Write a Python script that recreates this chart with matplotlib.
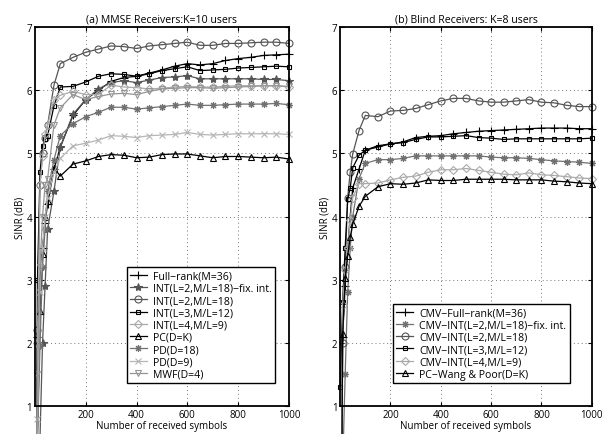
import matplotlib
matplotlib.use("Agg")
import matplotlib.pyplot as plt

plt.rcParams['font.family'] = ['Open Sans', 'DejaVu Sans']

# number of received symbols (same grid for every curve)
symbols = [1, 10, 20, 30, 40, 50, 75, 100, 150, 200, 250, 300, 350, 400, 450, 500,
           550, 600, 650, 700, 750, 800, 850, 900, 950, 1000]

# (a) MMSE receivers, K=10 users - SINR in dB
full_rank_a = [-4, 2.1, 3.0, 3.5, 3.9, 4.2, 4.75, 5.1, 5.6, 5.85, 6.0, 6.14, 6.2, 6.22, 6.27, 6.32,
               6.38, 6.42, 6.4, 6.42, 6.47, 6.5, 6.52, 6.55, 6.56, 6.57]
int_fix_a = [-4, -1.0, 0.5, 2.0, 2.9, 3.8, 4.4, 5.1, 5.62, 5.85, 6.02, 6.12, 6.15, 6.12, 6.16, 6.2,
             6.21, 6.23, 6.18, 6.18, 6.18, 6.18, 6.18, 6.17, 6.17, 6.15]
int_l2_a = [-4, 2.2, 4.5, 5.0, 5.25, 5.45, 6.08, 6.42, 6.52, 6.6, 6.65, 6.7, 6.69, 6.66, 6.7, 6.72,
            6.74, 6.76, 6.71, 6.71, 6.74, 6.74, 6.75, 6.76, 6.76, 6.74]
int_l3_a = [-4, 3.0, 4.7, 5.12, 5.22, 5.28, 5.75, 6.05, 6.06, 6.13, 6.22, 6.26, 6.25, 6.22, 6.26, 6.31,
            6.34, 6.37, 6.31, 6.32, 6.33, 6.35, 6.36, 6.37, 6.38, 6.37]
int_l4_a = [-4, 2.0, 4.5, 4.95, 5.3, 5.45, 5.85, 5.92, 5.98, 5.93, 5.93, 6.08, 6.05, 6.04, 6.02, 6.03,
            6.05, 6.06, 6.05, 6.05, 6.06, 6.07, 6.07, 6.07, 6.07, 6.05]
pc_a = [-4, 0.5, 2.5, 3.4, 4.0, 4.25, 4.77, 4.64, 4.83, 4.88, 4.95, 4.98, 4.97, 4.93, 4.94, 4.98,
        4.99, 4.99, 4.96, 4.93, 4.95, 4.95, 4.94, 4.93, 4.94, 4.91]
pd18_a = [-4, 0.5, 1.95, 3.2, 3.8, 4.4, 4.9, 5.28, 5.47, 5.58, 5.65, 5.73, 5.73, 5.7, 5.72, 5.74,
          5.76, 5.78, 5.76, 5.76, 5.77, 5.78, 5.78, 5.78, 5.79, 5.77]
pd9_a = [-4, 0.8, 2.8, 3.5, 4.0, 4.3, 4.7, 4.92, 5.12, 5.16, 5.21, 5.28, 5.27, 5.25, 5.28, 5.29,
         5.3, 5.33, 5.3, 5.29, 5.3, 5.31, 5.31, 5.31, 5.31, 5.3]
mwf_a = [-4, 1.5, 3.2, 4.0, 4.5, 4.6, 5.45, 5.72, 5.93, 5.85, 5.9, 5.94, 5.95, 5.93, 5.98, 6.02,
         6.03, 6.04, 6.04, 6.03, 6.04, 6.05, 6.06, 6.07, 6.07, 6.06]

# (b) blind receivers, K=8 users
full_rank_b = [-4, 2.1, 2.9, 3.5, 4.0, 4.45, 4.75, 5.05, 5.12, 5.15, 5.18, 5.25, 5.27, 5.28, 5.31, 5.33,
               5.35, 5.36, 5.37, 5.38, 5.39, 5.4, 5.4, 5.4, 5.39, 5.39]
int_fix_b = [-4, 0.0, 1.5, 2.8, 3.5, 4.0, 4.6, 4.84, 4.9, 4.9, 4.92, 4.96, 4.96, 4.96, 4.96, 4.96,
             4.96, 4.94, 4.93, 4.93, 4.92, 4.9, 4.88, 4.87, 4.86, 4.84]
int_l2_b = [-4, 2.0, 3.2, 4.3, 4.7, 4.99, 5.36, 5.6, 5.58, 5.67, 5.68, 5.71, 5.77, 5.83, 5.87, 5.87,
            5.83, 5.81, 5.81, 5.83, 5.85, 5.81, 5.8, 5.76, 5.74, 5.74]
int_l3_b = [1.3, 2.65, 3.5, 4.27, 4.45, 4.77, 4.97, 5.05, 5.1, 5.15, 5.17, 5.22, 5.26, 5.26, 5.27, 5.28,
            5.25, 5.24, 5.22, 5.23, 5.23, 5.23, 5.23, 5.23, 5.23, 5.24]
int_l4_b = [-4, 2.6, 3.15, 3.5, 3.95, 4.3, 4.52, 4.52, 4.53, 4.58, 4.62, 4.64, 4.7, 4.74, 4.74, 4.76,
            4.73, 4.7, 4.67, 4.66, 4.69, 4.66, 4.65, 4.63, 4.61, 4.6]
pc_b = [-4, 2.14, 3.03, 3.38, 3.67, 3.88, 4.16, 4.32, 4.47, 4.52, 4.51, 4.53, 4.58, 4.57, 4.57, 4.59,
        4.59, 4.59, 4.59, 4.58, 4.58, 4.58, 4.56, 4.55, 4.53, 4.52]

ASTER = (8, 2, 0)

# label, data, marker, color, filled
series_a = [
    ("Full\u2212rank(M=36)", full_rank_a, "+", "black", False),
    ("INT(L=2,M/L=18)\u2212fix. int.", int_fix_a, "*", "#555555", True),
    ("INT(L=2,M/L=18)", int_l2_a, "o", "#555555", False),
    ("INT(L=3,M/L=12)", int_l3_a, "s", "black", False),
    ("INT(L=4,M/L=9)", int_l4_a, "D", "#aaaaaa", False),
    ("PC(D=K)", pc_a, "^", "black", False),
    ("PD(D=18)", pd18_a, ASTER, "#707070", True),
    ("PD(D=9)", pd9_a, "x", "#b5b5b5", False),
    ("MWF(D=4)", mwf_a, "v", "#959595", False),
]
series_b = [
    ("CMV\u2212Full\u2212rank(M=36)", full_rank_b, "+", "black", False),
    ("CMV\u2212INT(L=2,M/L=18)\u2212fix. int.", int_fix_b, ASTER, "#707070", True),
    ("CMV\u2212INT(L=2,M/L=18)", int_l2_b, "o", "#555555", False),
    ("CMV\u2212INT(L=3,M/L=12)", int_l3_b, "s", "black", False),
    ("CMV\u2212INT(L=4,M/L=9)", int_l4_b, "D", "#aaaaaa", False),
    ("PC\u2212Wang & Poor(D=K)", pc_b, "^", "black", False),
]

msizes = {"+": 6, "*": 6, "o": 5, "s": 3.5, "D": 3.8, "^": 5, "x": 4, "v": 5}


def drawPanel(ax, series, title, legend_right):
    for label, vals, mk, col, filled in series:
        ms = msizes.get(mk, 5) if isinstance(mk, str) else 5
        ax.plot(symbols, vals, marker=mk, color=col, lw=0.9, ms=ms,
                mfc=col if filled else "none", mec=col, mew=0.8,
                label=label, clip_on=False)
    ax.set_xlim(0, 1000)
    ax.set_ylim(1, 7)
    ax.set_xticks([200, 400, 600, 800, 1000])
    ax.set_yticks([1, 2, 3, 4, 5, 6, 7])
    ax.grid(True, ls=(0, (1, 3)), color="#777777", lw=0.7)
    ax.tick_params(direction="in", top=True, right=True, labelsize=7, length=3, pad=2)
    for sp in ax.spines.values():
        sp.set_linewidth(1.3)
    ax.set_title(title, fontsize=7.6, pad=4)
    ax.set_xlabel("Number of received symbols", fontsize=7, labelpad=0)
    ax.set_ylabel("SINR (dB)", fontsize=7, labelpad=1)
    leg = ax.legend(loc="lower right", bbox_to_anchor=(legend_right, 0.061),
                    borderaxespad=0, fontsize=7.6, fancybox=False, framealpha=1,
                    edgecolor="black", handlelength=1.6, labelspacing=0.12,
                    borderpad=0.3, handletextpad=0.6)
    leg.get_frame().set_linewidth(1.0)
    leg.set_zorder(5)


fig = plt.figure(figsize=(6.02, 4.35), dpi=100)
ax1 = fig.add_axes([0.058, 0.0644, 0.422, 0.8712])
ax2 = fig.add_axes([0.565, 0.0644, 0.418, 0.8712])

drawPanel(ax1, series_a, "(a) MMSE Receivers:K=10 users", 0.945)
drawPanel(ax2, series_b, "(b) Blind Receivers: K=8 users", 0.912)

fig.savefig("out.png", dpi=100)
